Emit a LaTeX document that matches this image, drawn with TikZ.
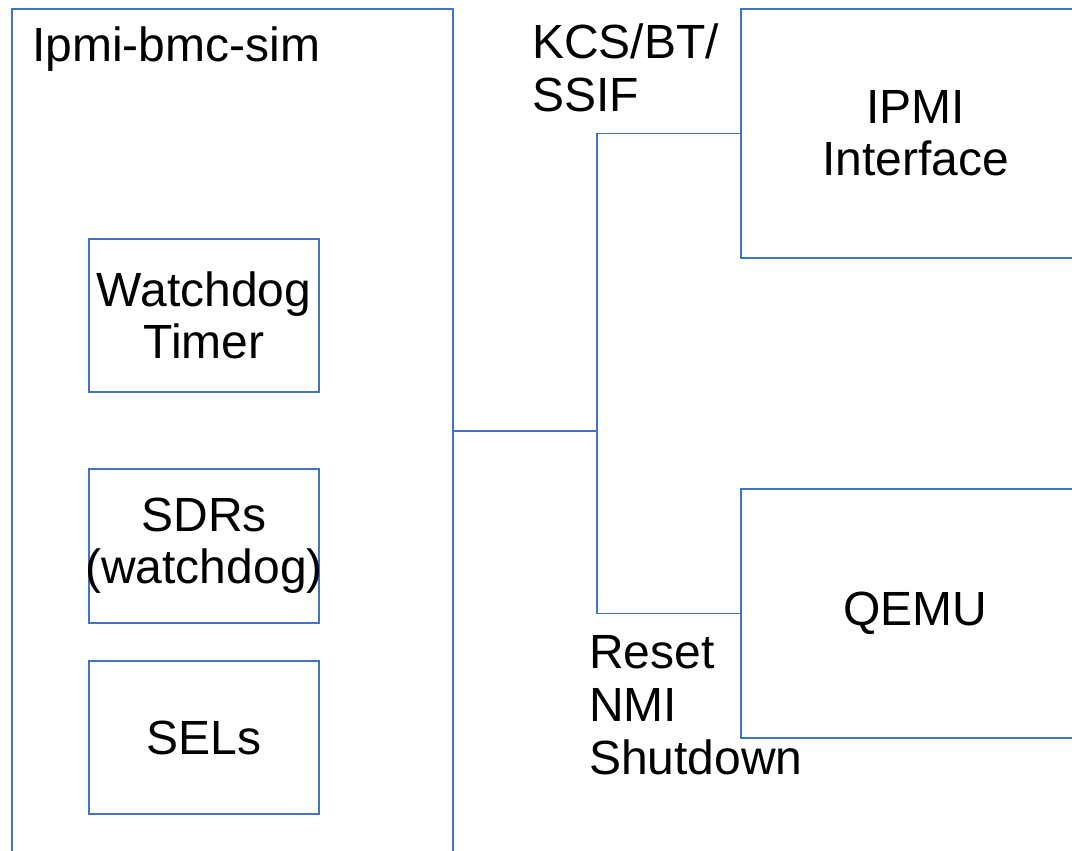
\documentclass[tikz,border=0pt]{standalone}
\usepackage{fontspec}
\setmainfont{Liberation Sans}
\definecolor{lineblue}{HTML}{4472C4}
\begin{document}
\begin{tikzpicture}[x=1pt,y=-1pt,
  box/.style={draw=lineblue,line width=1.2pt,rectangle,inner sep=0pt,align=center,
    font=\fontsize{48}{52}\selectfont},
  lbl/.style={inner sep=0pt,align=left,font=\fontsize{48}{53}\selectfont},
  wire/.style={draw=lineblue,line width=1.2pt}]
\useasboundingbox (0,0) rectangle (1072,851);
\fill[white] (0,0) rectangle (1072,851);
\clip (0,0) rectangle (1072,851);
\node[box,minimum width=441pt,minimum height=844pt] (sim) at (232.5,431) {};
\node[lbl,anchor=base west] (simlbl) at (32,62) {Ipmi-bmc-sim};
\node[box,minimum width=230pt,minimum height=153pt] (wdt) at (204,315.5) {Watchdog\\Timer};
\node[box,inner xsep=-6pt,minimum width=230pt,minimum height=154pt] (sdr) at (204,546) {SDRs\\(watchdog)};
\node[box,minimum width=230pt,minimum height=153pt] (sel) at (204,737.5) {SELs};
\node[box,minimum width=349pt,minimum height=249pt] (ipmi) at (915.5,133.5) {IPMI\\Interface};
\node[box,minimum width=349pt,minimum height=249pt] (qemu) at (915.5,613.5) {QEMU};
\node[lbl,anchor=base west] (kcs) at (532,111) {KCS/BT/\\SSIF};
\node[lbl,anchor=base west] (rst) at (589,774) {Reset\\NMI\\Shutdown};
\coordinate (j) at (597,431);
\draw[wire] (sim.east) -- (j);
\draw[wire] (j) |- (ipmi.west);
\draw[wire] (j) |- (qemu.west);
\end{tikzpicture}
\end{document}
